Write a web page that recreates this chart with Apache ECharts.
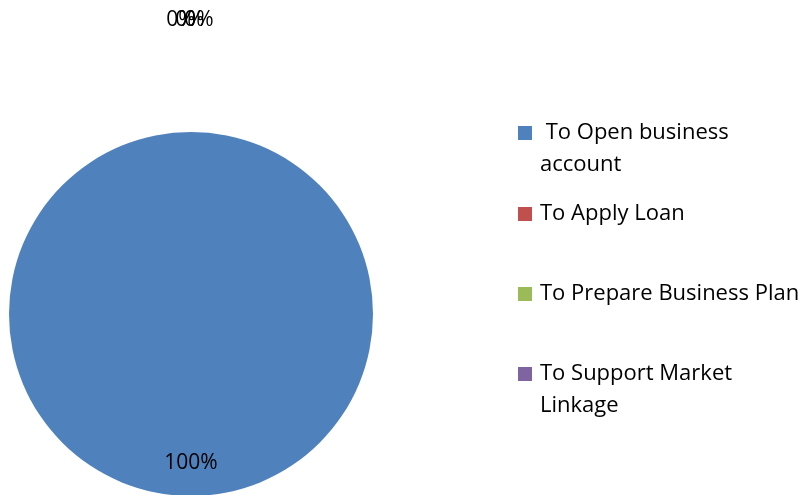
<!DOCTYPE html>
<html>
<head>
<meta charset="utf-8">
<script src="https://cdn.jsdelivr.net/npm/echarts@6/dist/echarts.min.js"></script>
<style>
html,body{margin:0;padding:0;background:#fff;}
#main{width:812px;height:495px;}
</style>
</head>
<body>
<div id="main"></div>
<script>
var categories = [' To Open business\naccount', 'To Apply Loan', 'To Prepare Business Plan', 'To Support Market\nLinkage'];
var values = [100, 0, 0, 0];
var colors = ['#4F81BD', '#C0504D', '#9BBB59', '#8064A2'];

var FONT = 'Open Sans';
var labelOffsets = [[0, 55], [-10, -200], [-1, -200], [8, -200]];
var legendTops = [85, 198, 278, 326];

var chart = echarts.init(document.getElementById('main'), null, {renderer: 'canvas'});

var legends = categories.map(function (name, i) {
  var multi = name.indexOf('\n') >= 0;
  return {
    data: [name],
    left: 518,
    top: legendTops[i],
    padding: 0,
    orient: 'vertical',
    itemWidth: 14,
    itemHeight: 14,
    icon: 'rect',
    selectedMode: false,
    formatter: function (n) { return multi ? '\n' + n : n; },
    textStyle: {
      fontFamily: FONT,
      fontSize: 22,
      color: '#000',
      lineHeight: 32,
      padding: [0, 0, 0, 3]
    }
  };
});

chart.setOption({
  animation: false,
  color: colors,
  legend: legends,
  series: [{
    type: 'pie',
    center: [191, 314],
    radius: 182,
    startAngle: 90,
    clockwise: true,
    avoidLabelOverlap: false,
    minShowLabelAngle: 0,
    stillShowZeroSum: true,
    labelLayout: {hideOverlap: false},
    labelLine: {show: false},
    emphasis: {disabled: true},
    data: categories.map(function (name, i) {
      return {
        name: name,
        value: values[i],
        label: {
          show: true,
          position: 'inside',
          offset: labelOffsets[i],
          formatter: function (p) { return Math.round(p.percent) + '%'; },
          fontFamily: FONT,
          fontSize: 21,
          color: '#000'
        }
      };
    })
  }]
});
</script>
</body>
</html>
